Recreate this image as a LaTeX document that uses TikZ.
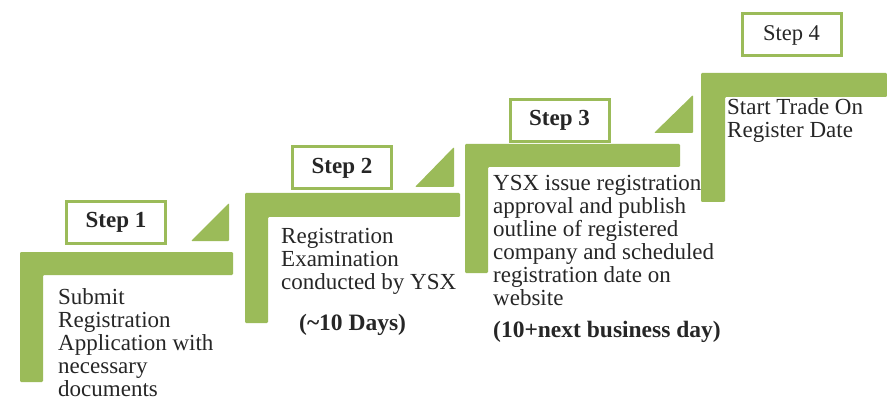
\documentclass[tikz,border=0pt]{standalone}
\usepackage{fontspec}
\setmainfont{Liberation Serif}
\definecolor{stepgreen}{HTML}{9BBB59}
\definecolor{txt}{HTML}{262626}
\begin{document}
\begin{tikzpicture}[x=1pt,y=-1pt,
  stepbox/.style={draw=stepgreen,line width=3pt,fill=white,minimum width=99pt,minimum height=42pt,inner sep=0pt,font=\fontsize{23}{23}\selectfont,text=txt},
  lshape/.style={fill=stepgreen,rounded corners=1.2pt},
  tri/.style={fill=stepgreen,rounded corners=1pt},
  desc/.style={anchor=base west,align=left,inner sep=0pt,font=\fontsize{23}{23}\selectfont,text=txt},
  dur/.style={anchor=base west,inner sep=0pt,font=\fontsize{23.5}{23}\selectfont\bfseries,text=txt}]
\useasboundingbox (0,0) rectangle (887,401);
% L shapes
\fill[lshape] (20,252) -- (233,252) -- (233,275) -- (43,275) -- (43,382) -- (20,382) -- cycle;
\fill[lshape] (245,193) -- (460,193) -- (460,217) -- (268,217) -- (268,323) -- (245,323) -- cycle;
\fill[lshape] (465,144) -- (680,144) -- (680,167) -- (488,167) -- (488,273) -- (465,273) -- cycle;
\fill[lshape] (701,73) -- (887,73) -- (887,97) -- (725,97) -- (725,202) -- (701,202) -- cycle;
% triangles
\fill[tri] (191,241) -- (229,203) -- (229,241) -- cycle;
\fill[tri] (415,187) -- (454,147) -- (454,187) -- cycle;
\fill[tri] (654,133) -- (693,95) -- (693,133) -- cycle;
% step boxes
\node[stepbox] (s1) at (116,222.5) {\bfseries Step 1};
\node[stepbox] (s2) at (342,168) {\bfseries Step 2};
\node[stepbox] (s3) at (559.5,120.5) {\bfseries Step 3};
\node[stepbox,font=\fontsize{22.5}{23}\selectfont] (s4) at (791.5,35) {Step 4};
% descriptions (anchored at the baseline of the last line)
\node[desc] (d1) at (58,396.5) {Submit\\Registration\\Application with\\necessary\\documents};
\node[desc] (d2) at (281,289) {Registration\\Examination\\conducted by YSX};
\node[dur] (t2) at (299,330) {(\textasciitilde10 Days)};
\node[desc] (d3) at (493,305) {YSX issue registration\\approval and publish\\outline of registered\\company and scheduled\\registration date on\\website};
\node[dur] (t3) at (493,337) {(10+next business day)};
\node[desc] (d4) at (727,138) {Start Trade On\\Register Date};
\end{tikzpicture}
\end{document}
